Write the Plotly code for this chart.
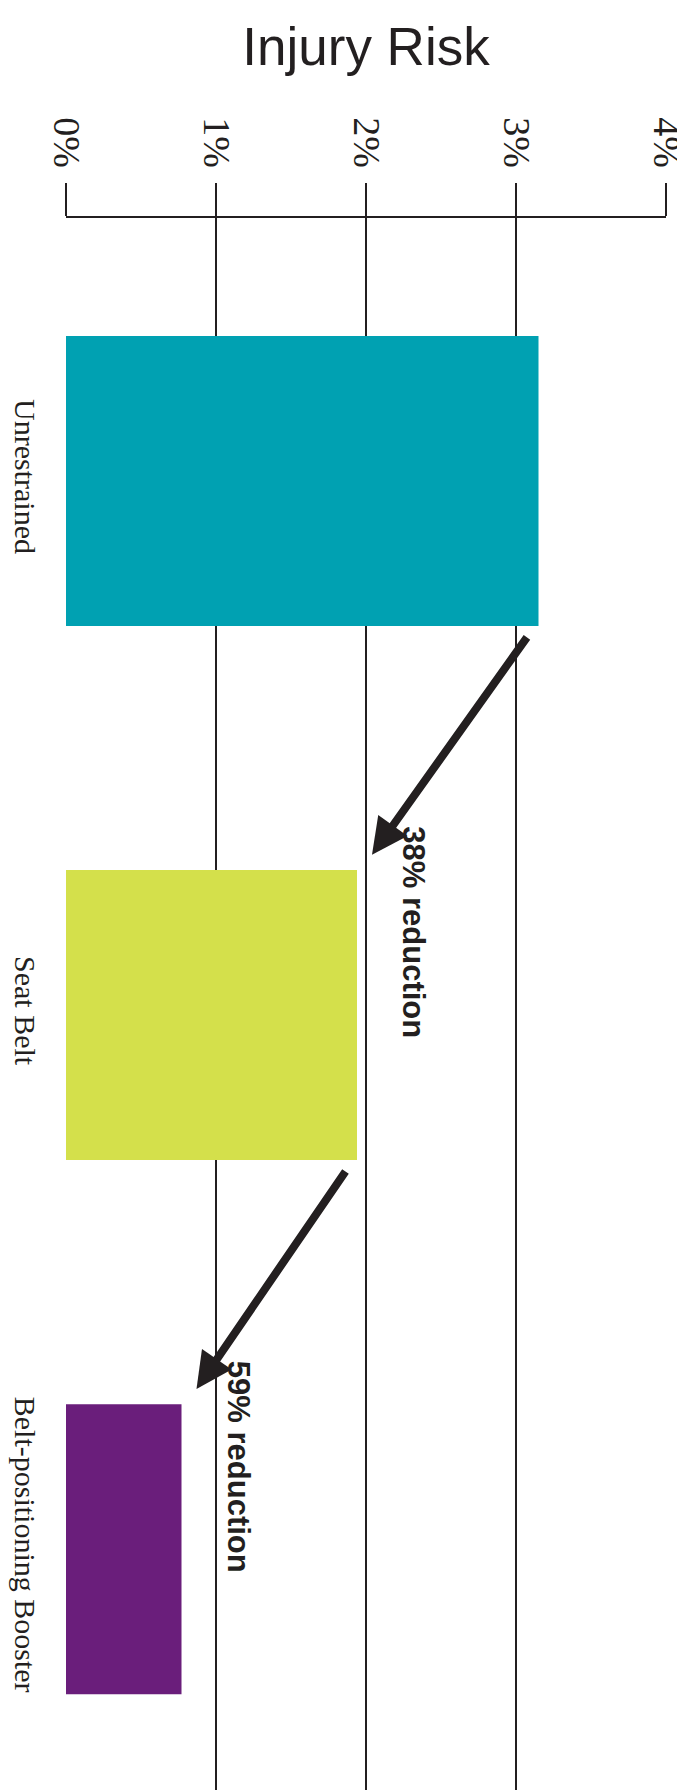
import plotly.graph_objects as go

categories = ["Unrestrained", "Seat Belt", "Belt-positioning Booster"]
risk = [3.15, 1.94, 0.77]
colors = ["#00A1B2", "#D4E04B", "#6A1E7B"]
tick_vals = [0, 1, 2, 3, 4]
tick_text = ["0%", "1%", "2%", "3%", "4%"]
reductions = ["38% reduction", "59% reduction"]

dark = "#231f20"

fig = go.Figure()
fig.add_trace(go.Bar(
    x=risk, y=list(range(len(categories))), orientation="h",
    marker=dict(color=colors, line=dict(width=0)), width=0.543,
    hoverinfo="skip",
))

# arrows and reduction labels
for i, lab in enumerate(reductions):
    tail_x = risk[i] - 0.07
    head_x = risk[i + 1] + 0.1
    fig.add_annotation(
        x=head_x, y=i + 0.70, ax=tail_x, ay=i + 0.29,
        xref="x", yref="y", axref="x", ayref="y",
        showarrow=True, arrowhead=2, arrowsize=0.9, arrowwidth=8,
        arrowcolor=dark, text="",
    )
    fig.add_annotation(
        x=head_x + 0.28, y=i + 0.845, xref="x", yref="y",
        text="<b>" + lab + "</b>", textangle=90, showarrow=False,
        font=dict(family="Liberation Sans, Arial", size=31, color=dark),
    )

fig.update_layout(
    width=685, height=1790,
    margin=dict(l=58, r=27, t=210, b=0),
    paper_bgcolor="white", plot_bgcolor="white",
    showlegend=False,
    title=dict(text="Injury Risk", x=358 / 685, xanchor="center",
               y=1 - 38 / 1790, yanchor="middle",
               font=dict(family="Liberation Sans, Arial", size=53, color=dark)),
    xaxis=dict(range=[0, 4], side="top", tickvals=tick_vals, ticktext=tick_text,
               tickangle=90, showgrid=True, gridcolor=dark, gridwidth=1.6,
               showline=True, linecolor=dark, linewidth=1.6,
               ticks="outside", ticklen=33, tickcolor=dark, tickwidth=1.6,
               ticklabelstandoff=2, zeroline=False,
               tickfont=dict(family="Liberation Serif, Times New Roman", size=38, color=dark)),
    yaxis=dict(range=[2.466, -0.4925], tickvals=list(range(len(categories))),
               ticktext=categories, tickangle=90, showgrid=False, zeroline=False,
               showline=False, ticks="", ticklabelstandoff=20,
               tickfont=dict(family="Liberation Serif, Times New Roman", size=30, color=dark)),
)

fig.write_html("out.html")
